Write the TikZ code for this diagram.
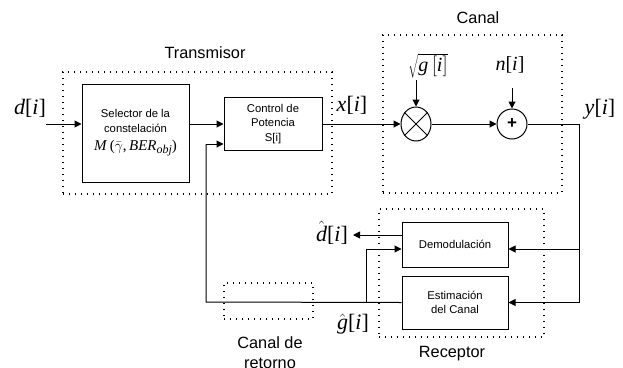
\documentclass[tikz,border=0pt]{standalone}
\usepackage{fontspec}
\setmainfont{Liberation Serif}
\setsansfont{Liberation Sans}
\usetikzlibrary{arrows.meta,shapes.geometric}
\newcommand{\lab}[2]{\textit{#1}[\textit{#2}]}
\begin{document}
\begin{tikzpicture}[x=1pt,y=-1pt,
  blk/.style={draw, line width=1pt, font=\sffamily\fontsize{11.3}{14.5}\selectfont, align=center, inner sep=0},
  grp/.style={draw, line width=1.1pt, dash pattern=on 1.1pt off 4.9pt, inner sep=0},
  glbl/.style={font=\sffamily\fontsize{16.3}{20}\selectfont, align=center},
  arr/.style={line width=1pt, -{Triangle[length=7pt,width=7pt]}},
  ln/.style={line width=1pt},
  ml/.style={font=\rmfamily\fontsize{22}{24}\selectfont, inner sep=0}
]
\useasboundingbox (0,0) rectangle (623,367);
% groups
\node[grp, minimum width=269, minimum height=122] (tx) at (197.5,133) {};
\node[grp, minimum width=179, minimum height=158] (ch) at (472.5,114) {};
\node[grp, minimum width=165, minimum height=128] (rx) at (461.5,273) {};
\node[grp, minimum width=89, minimum height=36] (ret) at (268.5,301) {};
\node[glbl] (txl) at (205,53) {Transmisor};
\node[glbl] (chl) at (478,18) {Canal};
\node[glbl] (rxl) at (452,354) {Receptor};
\node[glbl, anchor=north] (retl) at (270,333) {Canal de\\retorno};
% blocks
\node[blk, minimum width=107, minimum height=98] (sel) at (135.5,133) {Selector de la\\constelación\\[4pt]{\rmfamily\fontsize{15}{16}\selectfont\textit{M}\,($\bar\gamma$,\,\textit{BER}\raisebox{-3pt}{\fontsize{12}{12}\selectfont\textit{obj}})}};
\node[blk, minimum width=98, minimum height=53] (ctrl) at (273,124) {Control de\\Potencia\\S[i]};
\node[blk, minimum width=106, minimum height=45] (dem) at (455,244.5) {Demodulación};
\node[blk, minimum width=106, minimum height=53] (est) at (455,302.5) {Estimación\\del Canal};
\node[draw, ellipse, line width=1pt, minimum width=30, minimum height=34, inner sep=0] (mul) at (416,124) {};
\draw[ln] (mul.45) -- (mul.225) (mul.135) -- (mul.315);
\node[draw, circle, line width=1pt, minimum size=30, inner sep=0, font=\sffamily\bfseries\fontsize{17}{17}\selectfont] (add) at (512,124) {+};
% labels
\node[ml] (dl) at (30,108) {\lab{d}{i}};
\node[ml] (xl) at (352,105) {\lab{x}{i}};
\node[ml] (yl) at (600,109) {\lab{y}{i}};
\node[ml, font=\rmfamily\fontsize{20}{22}\selectfont] (nl) at (510,65) {\lab{n}{i}};
\node[ml, font=\rmfamily\fontsize{20}{22}\selectfont] (sgl) at (428,66) {$\sqrt{\textit{g}\,[\textit{i}]}$};
\node[ml] (dhl) at (332,233) {$\hat{\textit{d}}$[\textit{i}]};
\node[ml] (ghl) at (353,324) {$\hat{\textit{g}}$[\textit{i}]};
% coordinates
\coordinate (din) at (46,124);
\coordinate (sgt) at (416,80);
\coordinate (nt) at (512,88);
\coordinate (ytap) at (579,124);
\coordinate (fb) at (206,302);
\coordinate (fbt) at (206,144);
\coordinate (gb) at (366,302);
\coordinate (gbt) at (366,249);
\coordinate (dh) at (353,235);
% connectors
\draw[arr] (din) -- (din -| sel.west);
\draw[arr] (sel.east |- ctrl.west) -- (ctrl.west);
\draw[arr] (ctrl.east) -- (mul.west);
\draw[arr] (mul.east) -- (add.west);
\draw[arr] (sgt) -- (mul.north);
\draw[arr] (nt) -- (add.north);
\draw[ln] (add.east) -- (ytap) -- (ytap |- est.east);
\draw[arr] (ytap |- gbt) -- (gbt -| dem.east);
\draw[arr] (ytap |- est.east) -- (est.east);
\draw[ln] (est.west) -- (fb) -- (fbt);
\draw[arr] (fbt) -- (fbt -| ctrl.west);
\draw[ln] (gb) -- (gbt);
\draw[arr] (gbt) -- (gbt -| dem.west);
\draw[arr] (dh -| dem.west) -- (dh);
\end{tikzpicture}
\end{document}
